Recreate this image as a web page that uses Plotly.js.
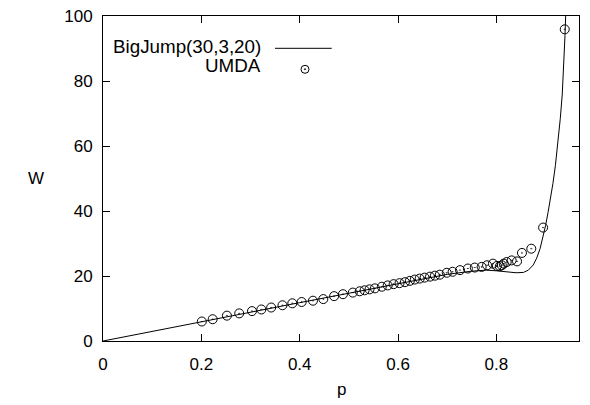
<!DOCTYPE html>
<html>
<head>
<meta charset="utf-8">
<script src="https://cdn.plot.ly/plotly-3.0.1.min.js"></script>
<style>html,body{margin:0;padding:0;background:#fff;}#chart{width:590px;height:405px;}</style>
</head>
<body>
<div id="chart"></div>
<script>
// BigJump(30,3,20) theoretical curve
const curveP = [0, 0.1, 0.2, 0.3, 0.4, 0.5, 0.6, 0.65, 0.7, 0.75, 0.78, 0.8, 0.82, 0.84, 0.855, 0.865, 0.875, 0.882, 0.889, 0.895, 0.9, 0.905, 0.91, 0.915, 0.92, 0.925, 0.93, 0.934, 0.937, 0.9395, 0.941, 0.943];
const curveW = [0, 3.0, 5.9, 8.9, 11.8, 14.7, 17.6, 19.1, 20.5, 21.5, 21.8, 21.6, 21.2, 21.0, 21.1, 21.8, 23.4, 25.5, 28.5, 32.0, 35.5, 39.5, 43.5, 48.5, 54.0, 61.0, 68.5, 76.0, 84.0, 94.0, 100.5, 106.0];

// UMDA empirical points
const umdaP = [0.201, 0.223, 0.252, 0.277, 0.303, 0.322, 0.342, 0.365, 0.385, 0.404, 0.427, 0.448, 0.470, 0.488, 0.508, 0.522, 0.532, 0.542, 0.553, 0.567, 0.579, 0.591, 0.603, 0.614, 0.624, 0.634, 0.644, 0.654, 0.665, 0.675, 0.685, 0.699, 0.711, 0.726, 0.742, 0.756, 0.770, 0.781, 0.793, 0.801, 0.807, 0.811, 0.815, 0.821, 0.831, 0.842, 0.852, 0.871, 0.895, 0.939];
const umdaW = [6.0, 6.7, 7.8, 8.5, 9.2, 9.7, 10.3, 11.0, 11.6, 12.0, 12.4, 12.9, 13.8, 14.4, 14.9, 15.3, 15.6, 15.9, 16.2, 16.7, 17.1, 17.5, 17.8, 18.1, 18.5, 18.9, 19.2, 19.5, 19.8, 20.1, 20.4, 21.0, 21.3, 21.8, 22.3, 22.6, 22.8, 23.3, 23.8, 23.1, 23.0, 23.3, 23.8, 24.3, 24.8, 24.5, 27.1, 28.4, 34.9, 95.9];

const xTicks = [0, 0.2, 0.4, 0.6, 0.8];
const xTickText = ['0', '0.2', '0.4', '0.6', '0.8'];
const yTicks = [0, 20, 40, 60, 80, 100];
const yTickText = ['0', '20', '40', '60', '80', '100'];

const FONT = 'Liberation Sans, Arial, sans-serif';

const traces = [
  {x: curveP, y: curveW, type: 'scatter', mode: 'lines', name: 'BigJump(30,3,20)',
   line: {color: '#000', width: 1}, showlegend: false},
  {x: umdaP, y: umdaW, type: 'scatter', mode: 'markers', name: 'UMDA',
   marker: {symbol: 'circle-open-dot', size: 9, color: '#000', line: {color: '#000', width: 1}},
   cliponaxis: false, showlegend: false}
];

const axisCommon = {
  showgrid: false, zeroline: false, showline: true, linecolor: '#000', linewidth: 1,
  mirror: 'allticks', ticks: 'inside', ticklen: 7, tickcolor: '#000', tickwidth: 1,
  tickfont: {family: FONT, size: 17, color: '#000'}
};

const layout = {
  width: 590, height: 405,
  margin: {l: 103, r: 11, t: 16, b: 64},
  paper_bgcolor: '#fff', plot_bgcolor: '#fff',
  showlegend: false,
  xaxis: Object.assign({}, axisCommon, {range: [0, 0.968], tickvals: xTicks, ticktext: xTickText, ticklabelstandoff: 8}),
  yaxis: Object.assign({}, axisCommon, {range: [0, 100], tickvals: yTicks, ticktext: yTickText, ticklabelstandoff: 6}),
  annotations: [
    {xref: 'paper', yref: 'paper', x: -0.141, y: 0.5, xanchor: 'center', yanchor: 'middle', text: 'W', showarrow: false, font: {family: FONT, size: 17, color: '#000'}},
    {xref: 'paper', yref: 'paper', x: 0.5, y: 0, yshift: -48, xanchor: 'center', yanchor: 'middle', text: 'p', showarrow: false, font: {family: FONT, size: 17, color: '#000'}},
    {xref: 'paper', yref: 'paper', x: 0.3368, y: 0.9055, xanchor: 'right', yanchor: 'middle', text: 'BigJump(30,3,20)', showarrow: false, font: {family: FONT, size: 18.8, color: '#000'}},
    {xref: 'paper', yref: 'paper', x: 0.3368, y: 0.849, xanchor: 'right', yanchor: 'middle', text: 'UMDA', showarrow: false, font: {family: FONT, size: 18.8, color: '#000'}}
  ],
  shapes: [
    {type: 'line', xref: 'paper', yref: 'paper', x0: 0.3613, x1: 0.4805, y0: 0.9006, y1: 0.9006, line: {color: '#000', width: 1}},
    {type: 'circle', xref: 'paper', yref: 'paper', xsizemode: 'pixel', ysizemode: 'pixel', xanchor: 0.4244, yanchor: 0.836, x0: -4, x1: 4, y0: -4, y1: 4, line: {color: '#000', width: 1}},
    {type: 'circle', xref: 'paper', yref: 'paper', xsizemode: 'pixel', ysizemode: 'pixel', xanchor: 0.4244, yanchor: 0.836, x0: -0.7, x1: 0.7, y0: -0.7, y1: 0.7, fillcolor: '#000', line: {color: '#000', width: 0.5}}
  ]
};

Plotly.newPlot('chart', traces, layout, {displayModeBar: false, staticPlot: true});
</script>
</body>
</html>
